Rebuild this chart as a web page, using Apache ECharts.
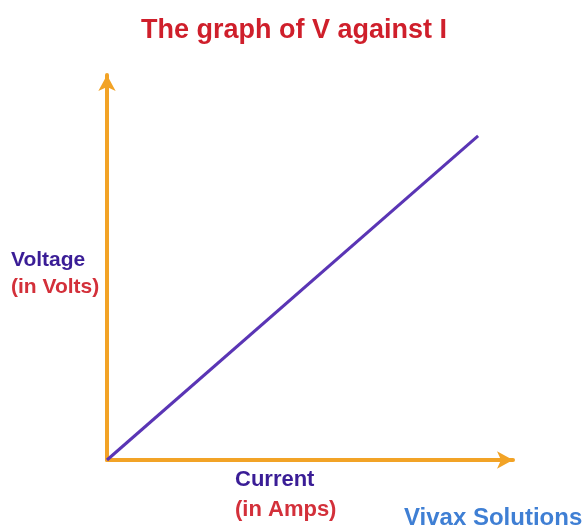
<!DOCTYPE html>
<html>
<head>
<meta charset="utf-8">
<script src="https://cdn.jsdelivr.net/npm/echarts@6/dist/echarts.min.js"></script>
<style>
  html, body { margin: 0; padding: 0; background: #fff; }
  #chart { width: 588px; height: 529px; }
</style>
</head>
<body>
<div id="chart"></div>
<script>
// 数据
var currentVals = [0, 9.14];   // I
var voltageVals = [0, 8.42];   // V
var axisMax = 10;

var points = currentVals.map(function (c, i) { return [c, voltageVals[i]]; });

var chart = echarts.init(document.getElementById('chart'));

var axisCommon = {
    type: 'value',
    min: 0,
    max: axisMax,
    axisLine: {
        show: true,
        symbol: ['none', 'arrow'],
        symbolSize: [13, 16],
        lineStyle: { color: '#f2a326', width: 4 }
    },
    axisTick: { show: false },
    axisLabel: { show: false },
    splitLine: { show: false }
};

chart.setOption({
    animation: false,
    title: {
        text: 'The graph of V against I',
        left: 'center',
        top: 12,
        textStyle: {
            color: '#cf1f2b',
            fontFamily: 'Liberation Sans',
            fontWeight: 'bold',
            fontSize: 27
        }
    },
    grid: { left: 107, right: 75, top: 75, bottom: 69 },
    xAxis: axisCommon,
    yAxis: axisCommon,
    series: [{
        type: 'line',
        data: points,
        symbol: 'none',
        lineStyle: { color: '#5a35b5', width: 3 },
        z: 1
    }],
    graphic: [
        {
            type: 'text', left: 11, top: 250,
            style: { text: 'Voltage', fill: '#3a1d96', font: 'bold 21px "Liberation Sans"' }
        },
        {
            type: 'text', left: 11, top: 277,
            style: { text: '(in Volts)', fill: '#d3303a', font: 'bold 21px "Liberation Sans"' }
        },
        {
            type: 'text', left: 235, top: 469,
            style: { text: 'Current', fill: '#3a1d96', font: 'bold 22px "Liberation Sans"' }
        },
        {
            type: 'text', left: 235, top: 499,
            style: { text: '(in Amps)', fill: '#d3303a', font: 'bold 22px "Liberation Sans"' }
        },
        {
            type: 'text', left: 404, top: 506,
            style: { text: 'Vivax Solutions', fill: '#3f7fd4', font: 'bold 24px "Liberation Sans"' }
        }
    ]
});
</script>
</body>
</html>
